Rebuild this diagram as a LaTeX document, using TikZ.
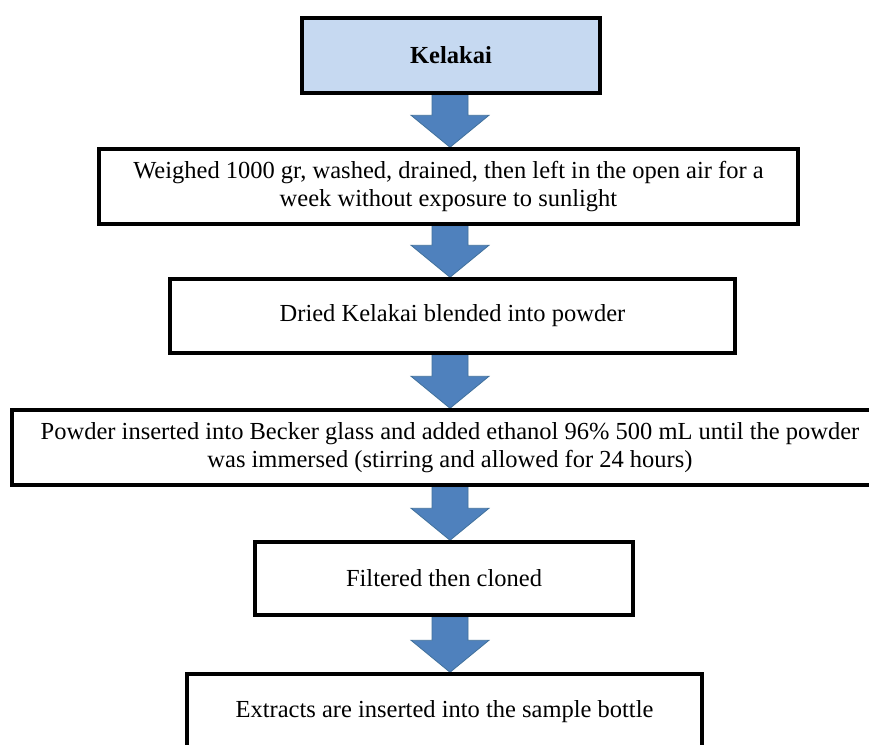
\documentclass[tikz,border=0pt]{standalone}
\usepackage{fontspec}
\setmainfont{Liberation Serif}
\usetikzlibrary{calc,backgrounds}
\definecolor{boxblue}{HTML}{C6D9F1}
\definecolor{arrowblue}{HTML}{4F81BD}
\definecolor{arrowedge}{HTML}{41719C}
\newcommand\flowarrow[2]{%
  \path[flow] let \p1=(#1.south), \p2=(#2.north) in
    (432pt,\y1) -- (468pt,\y1) -- (468pt,\y2+32pt) -- (489pt,\y2+32pt) --
    (450pt,\y2) -- (411pt,\y2+32pt) -- (432pt,\y2+32pt) -- cycle;}
\begin{document}
\begin{tikzpicture}[x=1pt,y=-1pt,
  stepbox/.style={draw=black, line width=3.5pt, fill=white, inner sep=0pt,
    align=center, font=\fontsize{24.5}{28}\selectfont, text=black},
  flow/.style={fill=arrowblue, draw=arrowedge, line width=0.8pt}]
\clip (0,0) rectangle (869,744);
\node[stepbox, fill=boxblue, minimum width=298pt, minimum height=75pt] (k) at (451,55.5) {\textbf{Kelakai}};
\node[stepbox, minimum width=699pt, minimum height=75pt] (w) at (448.5,186.5)
  {Weighed 1000 gr, washed, drained, then left in the open air for a\\week without exposure to sunlight};
\node[stepbox, minimum width=565pt, minimum height=74pt] (d) at (452.5,316)
  {Dried Kelakai blended into powder};
\node[stepbox, minimum width=876pt, minimum height=75pt] (p) at (450,447.5)
  {Powder inserted into Becker glass and added ethanol 96\% 500 mL until the powder\\was immersed (stirring and allowed for 24 hours)};
\node[stepbox, minimum width=378pt, minimum height=73pt] (f) at (444,578.5)
  {Filtered then cloned};
\node[stepbox, minimum width=515pt, minimum height=75pt] (e) at (444.5,711.5)
  {Extracts are inserted into the sample bottle};
\begin{scope}[on background layer]
\fill[white] (0,0) rectangle (869,744);
\flowarrow{k}{w}
\flowarrow{w}{d}
\flowarrow{d}{p}
\flowarrow{p}{f}
\flowarrow{f}{e}
\end{scope}
\end{tikzpicture}
\end{document}
